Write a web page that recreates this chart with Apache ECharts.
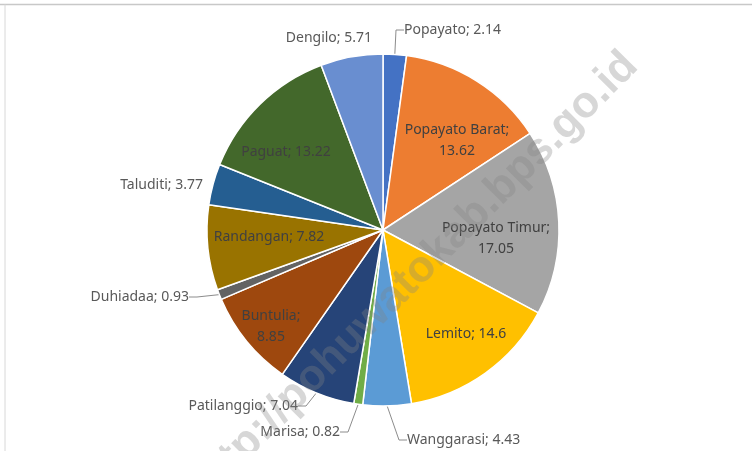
<!DOCTYPE html>
<html>
<head>
<meta charset="utf-8">
<script src="https://cdn.jsdelivr.net/npm/echarts@6/dist/echarts.min.js"></script>
<style>html,body{margin:0;padding:0;background:#fff}#c{width:752px;height:451px}</style>
</head>
<body>
<div id="c"></div>
<script>
const categories = ["Popayato","Popayato Barat","Popayato Timur","Lemito","Wanggarasi","Marisa","Patilanggio","Buntulia","Duhiadaa","Randangan","Taluditi","Paguat","Dengilo"];
const values = [2.14,13.62,17.05,14.6,4.43,0.82,7.04,8.85,0.93,7.82,3.77,13.22,5.71];
const colors = ["#4472C4","#ED7D31","#A5A5A5","#FFC000","#5B9BD5","#70AD47","#264478","#9E480E","#636363","#997300","#255E91","#43682B","#698ED0"];

// label placement (style only)
const labelPlace = {
  "Popayato":      {x:404, y:30,  align:'left',  inside:false, line:true},
  "Popayato Barat":{x:457, y:141, align:'center',inside:true,  wrap:true},
  "Popayato Timur":{x:496, y:239, align:'center',inside:true,  wrap:true},
  "Lemito":        {x:466, y:334, align:'center',inside:true},
  "Wanggarasi":    {x:407, y:440, align:'left',  inside:false, line:true},
  "Marisa":        {x:340, y:432, align:'right', inside:false, line:true},
  "Patilanggio":   {x:298, y:406, align:'right', inside:false, line:true},
  "Buntulia":      {x:271, y:327, align:'center',inside:true,  wrap:true},
  "Duhiadaa":      {x:189, y:297, align:'right', inside:false, line:true},
  "Randangan":     {x:269, y:237, align:'center',inside:true},
  "Taluditi":      {x:203, y:185, align:'right', inside:false, line:false},
  "Paguat":        {x:286, y:152, align:'center',inside:true},
  "Dengilo":       {x:372, y:38,  align:'right', inside:false, line:false}
};

const data = categories.map((n,i)=>({
  name:n, value:values[i],
  itemStyle:{color:colors[i]},
  label:{position: labelPlace[n].inside ? 'inside' : 'outside', color: labelPlace[n].inside ? '#404040' : '#595959'},
  labelLine:{show: !!labelPlace[n].line}
}));

const chart = echarts.init(document.getElementById('c'), null, {renderer:'canvas'});
chart.setOption({
  animation:false,
  backgroundColor:'#fff',
  graphic:[
    {type:'line', shape:{x1:0,y1:4.5,x2:752,y2:4.5}, style:{stroke:'#c8c8c8',lineWidth:1.5}, z:0},
    {type:'line', shape:{x1:5,y1:4.5,x2:5,y2:451}, style:{stroke:'#d8d8d8',lineWidth:1}, z:0},
    {type:'text', x:414, y:276, rotation:Math.PI/4, z:100, silent:true,
     style:{text:'http://pohuwatokab.bps.go.id', fill:'rgba(130,130,130,0.32)', font:'bold 44px "Liberation Sans", Arial, sans-serif', align:'center', verticalAlign:'middle'}}
  ],
  series:[{
    type:'pie',
    center:[383,230],
    radius:[0,176],
    startAngle:90,
    clockwise:true,
    data:data,
    itemStyle:{borderColor:'#fff', borderWidth:1.5},
    label:{
      show:true,
      fontFamily:'"Noto Sans", sans-serif',
      fontSize:14,
      lineHeight:21,
      formatter:p=> labelPlace[p.name].wrap ? p.name+';\n'+p.value : p.name+'; '+p.value
    },
    labelLine:{length:10,length2:8,lineStyle:{color:'#8c8c8c',width:1}},
    labelLayout:function(params){
      const n = categories[params.dataIndex];
      const lp = labelPlace[n];
      return {x:lp.x, y:lp.y, align:lp.align, verticalAlign:'middle'};
    }
  }]
});
</script>
</body>
</html>
